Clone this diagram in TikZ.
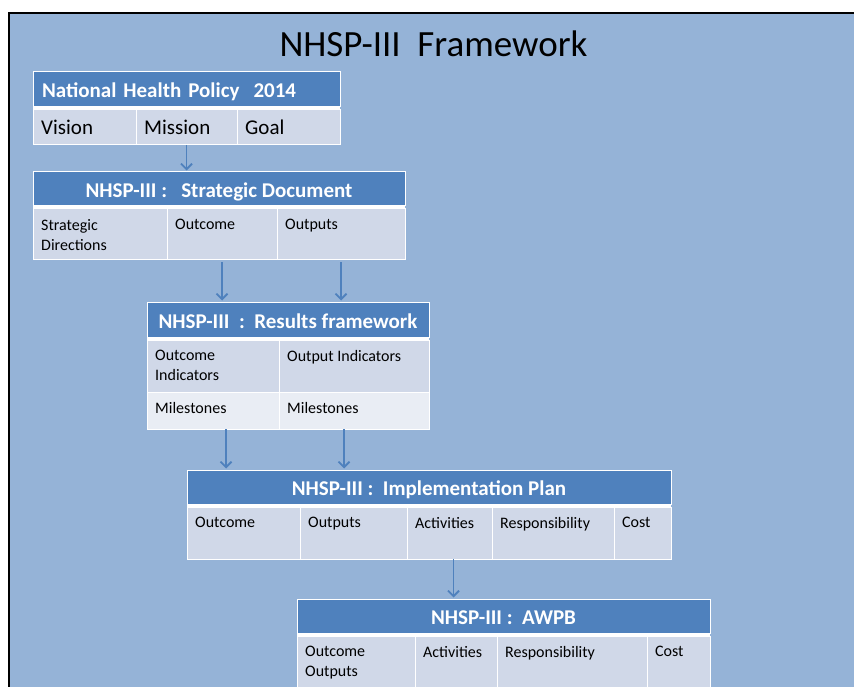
\documentclass[tikz,border=0pt]{standalone}
\usepackage{fontspec}
\setmainfont{Carlito}
\usetikzlibrary{positioning,arrows.meta}
\definecolor{bgblue}{HTML}{95B3D7}
\definecolor{hdrblue}{HTML}{4F81BD}
\definecolor{cellblue}{HTML}{D0D8E8}
\definecolor{lightcell}{HTML}{E9EDF4}
\tikzset{
	title/.style={
		anchor=base,
		inner sep=0pt,
		font=\fontsize{37}{44}\selectfont
	},
	header/.style={
		rectangle,
		draw=white,
		line width=1pt,
		fill=hdrblue,
		text=white,
		font=\fontsize{21}{25}\selectfont\bfseries,
		text height=17pt,
		text depth=0pt,
		inner sep=0pt,
		outer sep=0pt,
		minimum height=34pt,
		anchor=north west
	},
	cell/.style 2 args={
		rectangle,
		draw=white,
		line width=1pt,
		fill=cellblue,
		inner sep=0pt,
		outer sep=0pt,
		minimum width=#1,
		minimum height=#2
	},
	celltext/.style={
		anchor=north west,
		xshift=8pt,
		yshift=-10pt,
		inner sep=0pt,
		align=left,
		font=\fontsize{16}{20}\selectfont
	},
	bigtext/.style={
		font=\fontsize{21}{25}\selectfont
	},
	flow/.style={
		draw=hdrblue,
		line width=1.8pt,
		shorten >=1.5pt,
		-{Straight Barb[length=5.5pt,width=11pt]}
	},
}

\begin{document}
\begin{tikzpicture}[x=1pt,y=-1pt]
	\useasboundingbox (0,0) rectangle (854,687);
	\fill[white] (0,0) rectangle (854,687);
	\fill[bgblue] (9,13) rectangle (854,687);
	\draw[black,line width=2pt] (9,687) -- (9,13) -- (854,13);

	\node[title] (title) at (433.5,57) {NHSP-III~~Framework};

	% national policy
	\node[header,text width=289pt,align=left,inner xsep=9pt,minimum height=35pt] (h1) at (33,72) {National Health Policy~~2014};
	\node[cell={103pt}{35pt},below right=3pt and 0pt of h1.south west,label={[celltext,bigtext]north west:Vision}] (c11) {};
	\node[cell={101pt}{35pt},right=0pt of c11,label={[celltext,bigtext]north west:Mission}] (c12) {};
	\node[cell={103pt}{35pt},right=0pt of c12,label={[celltext,bigtext]north west:Goal}] (c13) {};
	\fill[white] (h1.south west) rectangle (c13.north east);

	% strategic document
	\node[header,minimum width=372pt] (h2) at (33,172) {NHSP-III :~~~Strategic Document};
	\node[cell={134pt}{50pt},below right=3pt and 0pt of h2.south west,label={[celltext]north west:Strategic\\Directions}] (c21) {};
	\node[cell={110pt}{50pt},right=0pt of c21,label={[celltext]north west:Outcome}] (c22) {};
	\node[cell={128pt}{50pt},right=0pt of c22,label={[celltext]north west:Outputs}] (c23) {};
	\fill[white] (h2.south west) rectangle (c23.north east);

	% results framework
	\node[header,minimum width=282pt,minimum height=35pt] (h3) at (147,302) {NHSP-III~~:~~Results framework};
	\node[cell={132pt}{52pt},below right=3pt and 0pt of h3.south west,label={[celltext]north west:Outcome\\Indicators}] (c31) {};
	\node[cell={150pt}{52pt},right=0pt of c31,label={[celltext]north west:Output Indicators}] (c32) {};
	\node[cell={132pt}{37pt},fill=lightcell,below=0pt of c31,label={[celltext]north west:Milestones}] (m31) {};
	\node[cell={150pt}{37pt},fill=lightcell,right=0pt of m31,label={[celltext]north west:Milestones}] (m32) {};
	\fill[white] (h3.south west) rectangle (c32.north east);

	% implementation plan
	\node[header,minimum width=484pt] (h4) at (187,470) {NHSP-III :~~Implementation Plan};
	\node[cell={113pt}{52pt},below right=3pt and 0pt of h4.south west,label={[celltext]north west:Outcome}] (c41) {};
	\node[cell={107pt}{52pt},right=0pt of c41,label={[celltext]north west:Outputs}] (c42) {};
	\node[cell={85pt}{52pt},right=0pt of c42,label={[celltext]north west:Activities}] (c43) {};
	\node[cell={122pt}{52pt},right=0pt of c43,label={[celltext]north west:Responsibility}] (c44) {};
	\node[cell={57pt}{52pt},right=0pt of c44,label={[celltext]north west:Cost}] (c45) {};
	\fill[white] (h4.south west) rectangle (c45.north east);

	% awpb
	\node[header,minimum width=413pt] (h5) at (297,599) {NHSP-III :~~AWPB};
	\node[cell={118pt}{52pt},below right=3pt and 0pt of h5.south west,label={[celltext]north west:Outcome\\Outputs}] (c51) {};
	\node[cell={82pt}{52pt},right=0pt of c51,label={[celltext]north west:Activities}] (c52) {};
	\node[cell={150pt}{52pt},right=0pt of c52,label={[celltext]north west:Responsibility}] (c53) {};
	\node[cell={63pt}{52pt},right=0pt of c53,label={[celltext]north west:Cost}] (c54) {};
	\fill[white] (h5.south west) rectangle (c54.north east);

	% arrows
	\coordinate (a3) at ([xshift=13pt]m31.south);
	\coordinate (b3) at ([xshift=-10pt]m32.south);
	\coordinate (a4) at ([xshift=4pt]c43.south);
	\draw[flow] (c12.south) -- (c12.south |- h2.north);
	\draw[flow,shorten <=3pt] (c22.south) -- (c22.south |- h3.north);
	\draw[flow,shorten <=3pt] (c23.south) -- (c23.south |- h3.north);
	\draw[flow] (a3) -- (a3 |- h4.north);
	\draw[flow] (b3) -- (b3 |- h4.north);
	\draw[flow] (a4) -- (a4 |- h5.north);
\end{tikzpicture}
\end{document}
